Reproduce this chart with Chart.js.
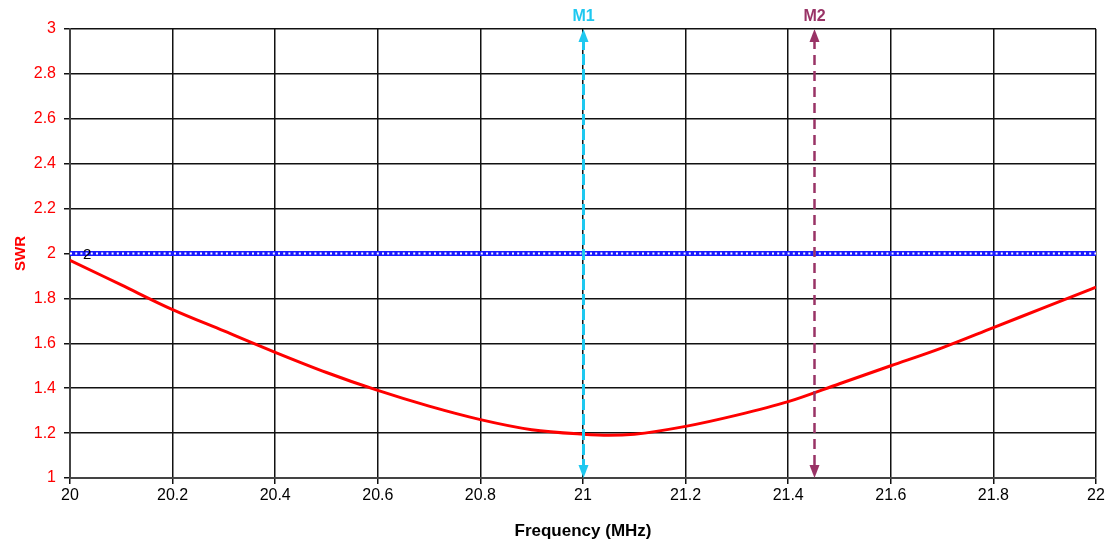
<!DOCTYPE html>
<html><head><meta charset="utf-8">
<script src="https://cdn.jsdelivr.net/npm/chart.js@4"></script>
<style>html,body{margin:0;padding:0;background:#fff}#wrap{width:1108px;height:546px;position:relative}</style>
</head><body><div id="wrap"><canvas id="c" width="1108" height="546"></canvas></div>
<script>
const freqs = [20.0, 20.1, 20.2, 20.3, 20.4, 20.5, 20.6, 20.7, 20.8, 20.9, 21.0, 21.05, 21.1, 21.2, 21.3, 21.4, 21.5, 21.6, 21.7, 21.8, 21.9, 22.0];
const swr   = [1.97, 1.86, 1.75, 1.655, 1.56, 1.47, 1.39, 1.32, 1.26, 1.215, 1.195, 1.19, 1.195, 1.23, 1.28, 1.34, 1.42, 1.50, 1.58, 1.67, 1.76, 1.85];
const limitFreqs = [20.0, 22.0];
const limitVals  = [2, 2];
const markerNames = ["M1", "M2"];
const markerFreqs = [21.0, 21.45];
const markerColors = ["#1ec8f0", "#993366"];
const xTicks = [20, 20.2, 20.4, 20.6, 20.8, 21, 21.2, 21.4, 21.6, 21.8, 22];
const yTicks = [1, 1.2, 1.4, 1.6, 1.8, 2, 2.2, 2.4, 2.6, 2.8, 3];

const FONT = "'Liberation Sans', Arial, sans-serif";

const markerPlugin = {
  id: 'markers',
  afterDatasetsDraw(chart) {
    const {ctx, scales:{x, y}, chartArea} = chart;
    ctx.save();
    ctx.fillStyle = '#000';
    ctx.font = '15px ' + FONT;
    ctx.textAlign = 'left'; ctx.textBaseline = 'middle';
    ctx.fillText(String(limitVals[0]), x.getPixelForValue(limitFreqs[0]) + 13, y.getPixelForValue(limitVals[0]) + 1);
    markerFreqs.forEach((f, i) => {
      const px = Math.round(x.getPixelForValue(f)) + 0.5;
      const top = chartArea.top, bot = chartArea.bottom;
      const col = markerColors[i];
      ctx.strokeStyle = col; ctx.fillStyle = col;
      ctx.lineWidth = i === 0 ? 3 : 2.5;
      ctx.setLineDash(i === 0 ? [11, 4] : [10, 6]);
      ctx.beginPath(); ctx.moveTo(px, top + 10); ctx.lineTo(px, bot - 10); ctx.stroke();
      ctx.setLineDash([]);
      ctx.beginPath(); ctx.moveTo(px, top); ctx.lineTo(px - 5, top + 13); ctx.lineTo(px + 5, top + 13); ctx.closePath(); ctx.fill();
      ctx.beginPath(); ctx.moveTo(px, bot); ctx.lineTo(px - 5, bot - 13); ctx.lineTo(px + 5, bot - 13); ctx.closePath(); ctx.fill();
      ctx.font = 'bold 16px ' + FONT;
      ctx.textAlign = 'center'; ctx.textBaseline = 'middle';
      ctx.fillText(markerNames[i], px, 17);
    });
    ctx.restore();
  }
};

new Chart(document.getElementById('c'), {
  type: 'scatter',
  data: {
    datasets: [
      { label: 'Limit', data: limitFreqs.map((f, i) => ({x: f, y: limitVals[i]})), showLine: true,
        borderColor: '#1a1aff', borderWidth: 5, pointRadius: 0, order: 2 },
      { label: 'Limit dots', data: limitFreqs.map((f, i) => ({x: f, y: limitVals[i]})), showLine: true,
        borderColor: '#ffffff', borderWidth: 1.8, borderDash: [2, 3.2], pointRadius: 0, order: 1 },
      { label: 'SWR', data: freqs.map((f, i) => ({x: f, y: swr[i]})), showLine: true,
        borderColor: '#ff0000', borderWidth: 3, pointRadius: 0, cubicInterpolationMode: 'monotone', order: 0 }
    ]
  },
  options: {
    responsive: false, animation: false, devicePixelRatio: 1,
    layout: { padding: { left: 0, right: 12, top: 29, bottom: 0 } },
    plugins: { legend: { display: false }, tooltip: { enabled: false } },
    scales: {
      x: {
        type: 'linear', min: 20, max: 22,
        afterBuildTicks: s => { s.ticks = xTicks.map(v => ({value: v})); },
        afterFit: s => { s.height = 68; },
        grid: { color: '#111', lineWidth: 1.5, tickLength: 6, drawTicks: true },
        border: { color: '#444', width: 2 },
        ticks: { color: '#000', font: { family: FONT, size: 16 }, padding: 2, maxRotation: 0, callback: v => String(v) },
        title: { display: true, text: 'Frequency (MHz)', color: '#000', font: { family: FONT, size: 17, weight: 'bold' }, padding: { top: 2 } }
      },
      y: {
        type: 'linear', min: 1, max: 3,
        afterBuildTicks: s => { s.ticks = yTicks.map(v => ({value: v})); },
        afterFit: s => { s.width = 70; },
        grid: { color: '#111', lineWidth: 1.5, tickLength: 6, drawTicks: true },
        border: { color: '#444', width: 2 },
        ticks: { color: '#ff0000', font: { family: FONT, size: 16 }, padding: 8, callback: v => String(v) },
        title: { display: true, text: 'SWR', color: '#ff0000', font: { family: FONT, size: 15, weight: 'bold' }, padding: { top: 12, bottom: 0 } }
      }
    }
  },
  plugins: [markerPlugin]
});
</script></body></html>
